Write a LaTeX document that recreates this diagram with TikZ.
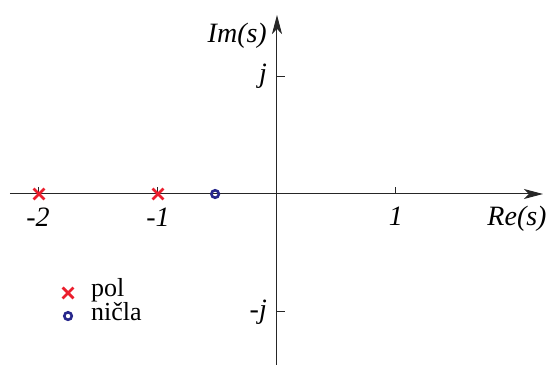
\documentclass[tikz,border=0pt]{standalone}
\usepackage{fontspec}
\setmainfont{Liberation Serif}[ItalicFont={Liberation Serif Italic}]
\usetikzlibrary{arrows.meta,shapes.misc}
\definecolor{polred}{RGB}{235,30,45}
\definecolor{nulblue}{RGB}{40,40,140}

\begin{document}
\begin{tikzpicture}[
  x=119pt,y=117pt,
  font=\rmfamily\fontsize{27}{30}\selectfont,
  axis/.style={line width=1pt,black!85,-{Stealth[length=19pt,width=10pt,inset=5pt]}},
  tick/.style={line width=1pt,black!85},
  lbl/.style={font=\rmfamily\itshape\fontsize{28}{30}\selectfont,inner sep=0pt},
  pole/.style={cross out,draw=polred,line width=2.8pt,minimum size=8pt,inner sep=0pt},
  zero/.style={circle,draw=nulblue,line width=2.6pt,minimum size=7.5pt,inner sep=0pt},
  leg/.style={font=\rmfamily\fontsize{26}{30}\selectfont,inner sep=0pt,anchor=base west}
]
\useasboundingbox (-2.3277,-1.4615) rectangle (2.2773,1.6581);

% axes
\coordinate (xstart) at (-2.244,0);
\coordinate (xend)   at (2.235,0);
\coordinate (ystart) at (0,-1.4615);
\coordinate (yend)   at (0,1.53);
\draw[axis] (xstart) -- (xend);
\draw[axis] (ystart) -- (yend);
\foreach \t in {-2,-1,1}
  \draw[tick] (\t,0) -- ++(0,7pt);
\foreach \t in {-1,1}
  \draw[tick] (0,\t) -- ++(8pt,0);

% axis labels
\node[lbl,anchor=base] (lm2) at (-2.008,-0.282) {-2};
\node[lbl,anchor=base] (lm1) at (-1,-0.282) {-1};
\node[lbl,anchor=base] (lp1) at (1,-0.265) {1};
\node[lbl,anchor=base] (re)  at (2.017,-0.265) {Re(s)};
\node[lbl,anchor=base east] (jp) at (-0.084,0.949) {j};
\node[lbl,anchor=base east] (jm) at (-0.084,-1.068) {-j};
\node[lbl,anchor=base east] (im) at (-0.084,1.291) {Im(s)};

% poles and zero
\node[pole] (p1) at (-2,0) {};
\node[pole] (p2) at (-1,0) {};
\node[zero] (z1) at (-0.52,0) {};

% legend
\node[pole] (legp) at (-1.756,-0.846) {};
\node[zero] (legz) at (-1.756,-1.043) {};
\node[leg] (legpt) at (-1.563,-0.872) {pol};
\node[leg] (legzt) at (-1.563,-1.085) {ničla};
\end{tikzpicture}
\end{document}
